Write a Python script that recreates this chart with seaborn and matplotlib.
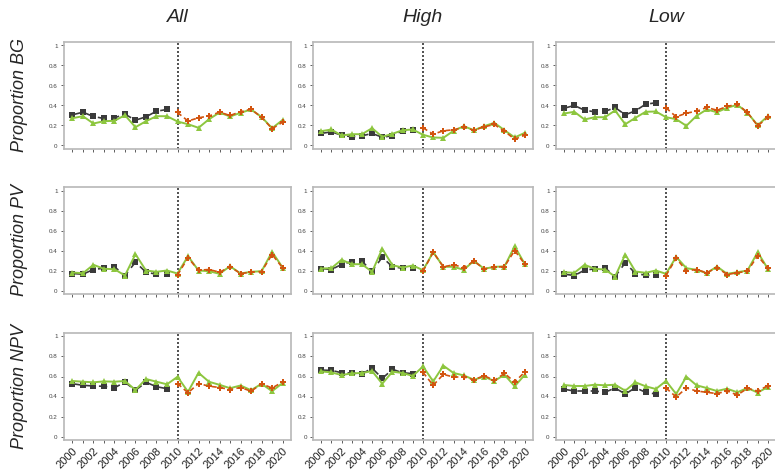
import numpy as np
import pandas as pd
import matplotlib
matplotlib.use("Agg")
import matplotlib.pyplot as plt
import seaborn as sns

# ---- data ---------------------------------------------------------------
years = list(range(2000, 2021))
obs_years = list(range(2000, 2010))
proj_years = list(range(2010, 2021))

columns = ["All", "High", "Low"]
rows = ["BG", "PV", "NPV"]
xtick_labels = [str(y) for y in range(2000, 2021, 2)]
ytick_values = [0, 0.2, 0.4, 0.6, 0.8, 1]
ytick_labels = ["0", "0.2", "0.4", "0.6", "0.8", "1"]

# observed (2000-2009)
all_bg_obs = [0.307, 0.333, 0.29, 0.27, 0.277, 0.313, 0.253, 0.287, 0.343, 0.36]
high_bg_obs = [0.12, 0.137, 0.103, 0.087, 0.097, 0.12, 0.083, 0.097, 0.147, 0.157]
low_bg_obs = [0.373, 0.40, 0.353, 0.337, 0.34, 0.38, 0.307, 0.347, 0.413, 0.427]
all_pv_obs = [0.17, 0.163, 0.21, 0.223, 0.237, 0.15, 0.283, 0.183, 0.163, 0.163]
high_pv_obs = [0.22, 0.21, 0.26, 0.29, 0.293, 0.193, 0.333, 0.237, 0.223, 0.223]
low_pv_obs = [0.163, 0.15, 0.203, 0.217, 0.227, 0.14, 0.277, 0.17, 0.153, 0.153]
all_npv_obs = [0.528, 0.512, 0.505, 0.502, 0.488, 0.542, 0.462, 0.542, 0.498, 0.478]
high_npv_obs = [0.664, 0.661, 0.638, 0.635, 0.625, 0.684, 0.581, 0.671, 0.638, 0.628]
low_npv_obs = [0.472, 0.455, 0.455, 0.455, 0.442, 0.485, 0.425, 0.488, 0.442, 0.425]

# modelled (2000-2020)
all_bg_model = [0.273, 0.293, 0.22, 0.243, 0.247, 0.303, 0.183, 0.243, 0.293, 0.293,
                0.24, 0.213, 0.177, 0.263, 0.33, 0.29, 0.327, 0.36, 0.285, 0.173, 0.255]
high_bg_model = [0.143, 0.16, 0.10, 0.113, 0.113, 0.173, 0.087, 0.117, 0.153, 0.16,
                 0.107, 0.08, 0.077, 0.147, 0.193, 0.153, 0.193, 0.227, 0.153, 0.08, 0.127]
low_bg_model = [0.32, 0.337, 0.26, 0.283, 0.283, 0.35, 0.213, 0.277, 0.337, 0.34,
                0.283, 0.263, 0.197, 0.297, 0.36, 0.333, 0.377, 0.407, 0.327, 0.203, 0.293]
all_pv_model = [0.18, 0.173, 0.257, 0.217, 0.213, 0.15, 0.363, 0.20, 0.187, 0.20,
                0.17, 0.343, 0.20, 0.193, 0.167, 0.243, 0.17, 0.187, 0.193, 0.387, 0.23]
high_pv_model = [0.22, 0.223, 0.307, 0.263, 0.263, 0.187, 0.417, 0.253, 0.23, 0.25,
                 0.203, 0.383, 0.237, 0.237, 0.207, 0.297, 0.217, 0.237, 0.24, 0.443, 0.263]
low_pv_model = [0.183, 0.177, 0.257, 0.217, 0.21, 0.14, 0.36, 0.19, 0.177, 0.20,
                0.167, 0.337, 0.223, 0.207, 0.173, 0.24, 0.167, 0.183, 0.20, 0.383, 0.217]
all_npv_model = [0.555, 0.548, 0.542, 0.551, 0.548, 0.555, 0.465, 0.575, 0.548, 0.522,
                 0.597, 0.447, 0.637, 0.547, 0.517, 0.483, 0.51, 0.463, 0.527, 0.453, 0.535]
high_npv_model = [0.651, 0.641, 0.615, 0.631, 0.635, 0.654, 0.528, 0.648, 0.635, 0.605,
                  0.701, 0.551, 0.708, 0.635, 0.611, 0.568, 0.598, 0.555, 0.618, 0.502, 0.618]
low_npv_model = [0.515, 0.505, 0.505, 0.518, 0.512, 0.518, 0.458, 0.542, 0.502, 0.475,
                 0.555, 0.425, 0.598, 0.512, 0.485, 0.455, 0.478, 0.442, 0.485, 0.439, 0.495]

# projected (2010-2020)
all_bg_proj = [0.33, 0.245, 0.277, 0.295, 0.333, 0.30, 0.338, 0.362, 0.283, 0.168, 0.233]
high_bg_proj = [0.177, 0.113, 0.147, 0.157, 0.183, 0.153, 0.187, 0.21, 0.143, 0.063, 0.103]
low_bg_proj = [0.377, 0.287, 0.323, 0.343, 0.38, 0.353, 0.39, 0.413, 0.33, 0.197, 0.28]
all_pv_proj = [0.155, 0.327, 0.203, 0.21, 0.183, 0.237, 0.17, 0.183, 0.19, 0.36, 0.227]
high_pv_proj = [0.193, 0.383, 0.237, 0.257, 0.23, 0.293, 0.217, 0.233, 0.24, 0.40, 0.263]
low_pv_proj = [0.15, 0.323, 0.197, 0.21, 0.177, 0.23, 0.16, 0.177, 0.193, 0.347, 0.223]
all_npv_proj = [0.53, 0.437, 0.53, 0.503, 0.49, 0.47, 0.49, 0.453, 0.527, 0.485, 0.545]
high_npv_proj = [0.641, 0.512, 0.621, 0.595, 0.595, 0.568, 0.608, 0.561, 0.631, 0.545, 0.645]
low_npv_proj = [0.485, 0.395, 0.485, 0.455, 0.442, 0.429, 0.455, 0.415, 0.482, 0.455, 0.508]

series = {
    ("BG", "All"): (all_bg_obs, all_bg_model, all_bg_proj),
    ("BG", "High"): (high_bg_obs, high_bg_model, high_bg_proj),
    ("BG", "Low"): (low_bg_obs, low_bg_model, low_bg_proj),
    ("PV", "All"): (all_pv_obs, all_pv_model, all_pv_proj),
    ("PV", "High"): (high_pv_obs, high_pv_model, high_pv_proj),
    ("PV", "Low"): (low_pv_obs, low_pv_model, low_pv_proj),
    ("NPV", "All"): (all_npv_obs, all_npv_model, all_npv_proj),
    ("NPV", "High"): (high_npv_obs, high_npv_model, high_npv_proj),
    ("NPV", "Low"): (low_npv_obs, low_npv_model, low_npv_proj),
}

# ---- style --------------------------------------------------------------
sns.set_theme(style="ticks")
plt.rcParams["font.family"] = ["Liberation Sans", "DejaVu Sans"]

OBS_C = "#3a3a3a"
MODEL_C = "#8dc63f"
PROJ_C = "#d2540f"
SPINE_C = "#b8b8b8"

W, H = 775, 473
fig = plt.figure(figsize=(W / 100, H / 100), dpi=100)

# axes boxes in pixels: (left, right) per column, (top, bottom) per row
col_px = [(64, 291), (313, 533), (556, 776)]
row_px = [(42, 149), (187, 294), (333, 440)]

for r, row in enumerate(rows):
    for c, col in enumerate(columns):
        l, rr = col_px[c]
        t, b = row_px[r]
        ax = fig.add_axes([l / W, 1 - b / H, (rr - l) / W, (b - t) / H])
        obs, model, proj = series[(row, col)]

        ax.axvline(2010, color="#333333", ls=(0, (1.2, 1.2)), lw=1.2, zorder=1)

        sns.lineplot(x=obs_years, y=obs, ax=ax, color=OBS_C, lw=1.2,
                     linestyle=(0, (5, 3)), marker="s", markersize=4.5,
                     markeredgewidth=0, zorder=3)
        sns.lineplot(x=years, y=model, ax=ax, color=MODEL_C, lw=1.4,
                     linestyle="-", marker="^", markersize=5,
                     markeredgewidth=0, zorder=4)
        sns.lineplot(x=proj_years, y=proj, ax=ax, color=PROJ_C, lw=1.2,
                     linestyle=(0, (3, 2)), marker="P", markersize=4,
                     markeredgewidth=0, zorder=5)

        ax.set_xlim(1999.2, 2020.8)
        ax.set_ylim(-0.035, 1.035)
        ax.set_xticks(years)
        ax.set_yticks(ytick_values)
        ax.set_yticklabels(ytick_labels, fontsize=4.5, color="#444444")
        if r == len(rows) - 1:
            ax.set_xticklabels([str(y) if y % 2 == 0 else "" for y in years],
                               rotation=45, ha="right", rotation_mode="anchor",
                               fontsize=8, color="#222222")
        else:
            ax.set_xticklabels([])
        ax.tick_params(axis="both", length=2.5, width=0.6, color="#444444", pad=2)
        ax.set_xlabel("")
        ax.set_ylabel("")
        for s in ax.spines.values():
            s.set_color(SPINE_C)
            s.set_linewidth(1.2)

        if r == 0:
            fig.text((l + rr) / 2 / W, 1 - 18 / H, col, ha="center", va="center",
                     fontsize=14, style="italic")
        if c == 0:
            fig.text(20 / W, 1 - (t + b) / 2 / H, f"Proportion {row}",
                     ha="center", va="center", rotation=90, fontsize=13,
                     style="italic")

fig.savefig("out.png", dpi=100)
